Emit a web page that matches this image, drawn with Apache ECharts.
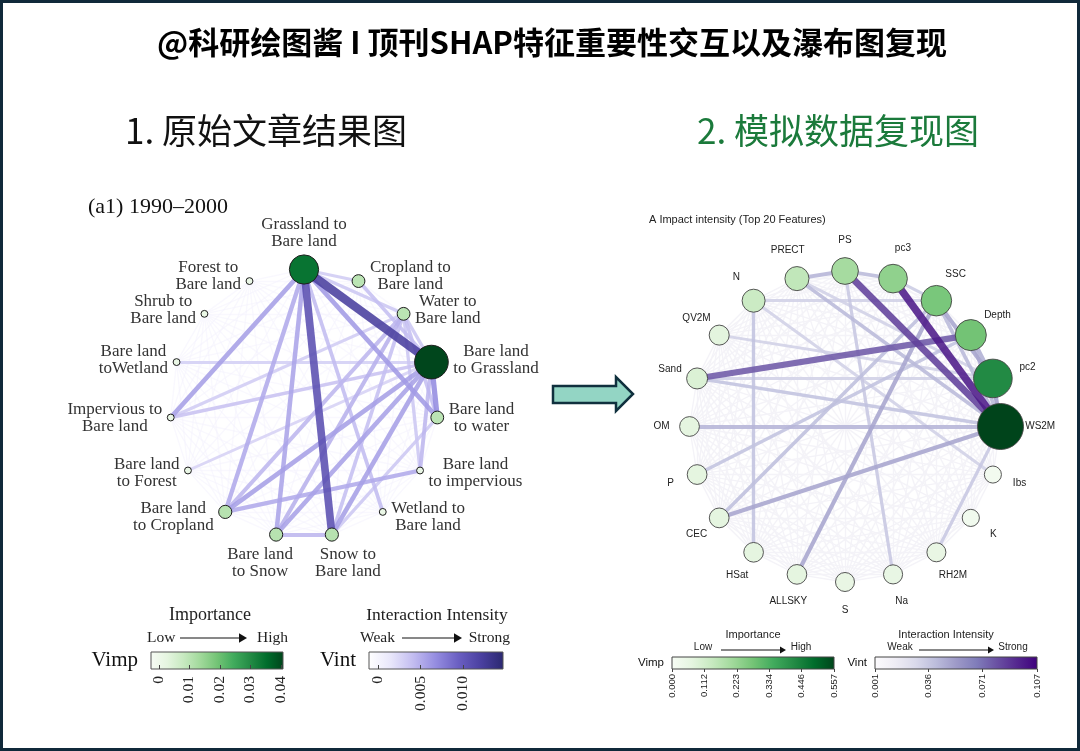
<!DOCTYPE html>
<html>
<head>
<meta charset="utf-8">
<title>SHAP 特征重要性交互网络图</title>
<script src="https://cdn.jsdelivr.net/npm/echarts@6/dist/echarts.min.js"></script>
<style>
  html, body { margin: 0; padding: 0; background: #fff; }
  #main { width: 1080px; height: 751px; }
</style>
</head>
<body>
<div id="main"></div>
<script>
// ---------- 1. 原始文章结果图 (a1) 1990–2000 ----------
var leftNames = [
    'Grassland to\nBare land', 'Cropland to\nBare land', 'Water to\nBare land',
    'Bare land\nto Grassland', 'Bare land\nto water', 'Bare land\nto impervious',
    'Wetland to\nBare land', 'Snow to\nBare land', 'Bare land\nto Snow',
    'Bare land\nto Cropland', 'Bare land\nto Forest', 'Impervious to\nBare land',
    'Bare land\ntoWetland', 'Shrub to\nBare land', 'Forest to\nBare land'
];
var leftVimp = [0.034, 0.010, 0.010, 0.0405, 0.010, 0.0013, 0.0013, 0.0105, 0.0105, 0.0105, 0.0013, 0.0013, 0.0013, 0.0013, 0.0013];
// [source, target, Vint]
var leftLinks = [
    [0, 3, 0.0122], [0, 7, 0.0108],
    [0, 11, 0.0058], [0, 9, 0.0052], [0, 8, 0.0055], [0, 4, 0.0060], [0, 6, 0.0042], [0, 2, 0.0035], [0, 1, 0.0032],
    [3, 4, 0.0068], [3, 9, 0.0058], [3, 8, 0.0056], [3, 7, 0.0058], [3, 5, 0.0045], [3, 11, 0.0038],
    [3, 1, 0.0040], [3, 2, 0.0035], [3, 12, 0.0030],
    [9, 5, 0.0052], [9, 2, 0.0045], [8, 7, 0.0045], [8, 2, 0.0048], [7, 2, 0.0040],
    [2, 4, 0.0040], [2, 5, 0.0035], [11, 2, 0.0032], [10, 3, 0.0028], [7, 4, 0.0035]
];
var leftMeshVint = 0.0002;
var leftVimpTicks = ['0', '0.01', '0.02', '0.03', '0.04'];
var leftVintTicks = ['0', '0.005', '0.010'];
var leftVimpRange = [-0.0026, 0.0407];
var leftVintRange = [-0.00106, 0.0147];

// ---------- 2. 模拟数据复现图 ----------
var rightNames = ['WS2M', 'pc2', 'Depth', 'SSC', 'pc3', 'PS', 'PRECT', 'N', 'QV2M', 'Sand',
    'OM', 'P', 'CEC', 'HSat', 'ALLSKY', 'S', 'Na', 'RH2M', 'K', 'Ibs'];
var rightVimp = [0.557, 0.42, 0.28, 0.27, 0.235, 0.20, 0.15, 0.13, 0.075, 0.093,
    0.07, 0.07, 0.07, 0.068, 0.068, 0.056, 0.058, 0.056, 0.022, 0.02];
var rightLinks = [
    [4, 0, 0.098], [5, 0, 0.086], [9, 2, 0.078],
    [10, 0, 0.044], [12, 0, 0.050], [14, 3, 0.050], [12, 3, 0.040], [11, 2, 0.038],
    [7, 13, 0.038], [9, 0, 0.038], [9, 1, 0.032], [8, 1, 0.032], [6, 0, 0.042],
    [7, 3, 0.032], [16, 5, 0.036], [17, 0, 0.036], [19, 7, 0.032], [6, 5, 0.044],
    [5, 4, 0.042], [3, 1, 0.050], [2, 1, 0.046], [1, 0, 0.052], [3, 0, 0.042],
    [6, 1, 0.032], [4, 3, 0.034], [2, 0, 0.042]
];
var rightMeshVint = 0.009;
var rightVimpTicks = ['0.000', '0.112', '0.223', '0.334', '0.446', '0.557'];
var rightVintTicks = ['0.001', '0.036', '0.071', '0.107'];
var rightVimpRange = [0, 0.557];
var rightVintRange = [0.001, 0.107];

// 调色板
var greens = ['#f7fcf5', '#e5f5e0', '#c7e9c0', '#a1d99b', '#74c476', '#41ab5d', '#238b45', '#006d2c', '#00441b'];
var purples = ['#fcfbfd', '#efedf5', '#dadaeb', '#bcbddc', '#9e9ac8', '#807dba', '#6a51a3', '#54278f', '#3f007d'];
var leftPurples = ['#ffffff', '#e8e6fa', '#c2bcf0', '#948ce0', '#6a5fc2', '#4a40a0', '#2b2870'];

var SERIF = '"Liberation Serif", "DejaVu Serif", serif';
var SANS = '"Liberation Sans", Arial, sans-serif';
var CJK = '"Noto Sans CJK SC", sans-serif';

function mapColor(v, range, palette) {
    var t = (v - range[0]) / (range[1] - range[0]);
    t = Math.max(0, Math.min(1, t));
    return echarts.color.lerp(t, palette);
}

function gradient(palette) {
    return new echarts.graphic.LinearGradient(0, 0, 1, 0, palette.map(function (c, i) {
        return {offset: i / (palette.length - 1), color: c};
    }));
}

var measureCtx = document.createElement('canvas').getContext('2d');
function textBox(text, font, lineHeight) {
    measureCtx.font = font;
    var w = 0;
    var lines = text.split('\n');
    lines.forEach(function (l) {
        w = Math.max(w, measureCtx.measureText(l).width);
    });
    return {w: w, h: lines.length * lineHeight};
}

// 连线: 列出的强交互 + 其余节点对的弱交互背景
function buildLinks(count, list, meshValue, range, palette, widthRange, meshOpacity) {
    var seen = {};
    var links = [];
    list.forEach(function (l) {
        seen[Math.min(l[0], l[1]) + '-' + Math.max(l[0], l[1])] = true;
    });
    var all = list.slice();
    for (var i = 0; i < count; i++) {
        for (var j = i + 1; j < count; j++) {
            if (!seen[i + '-' + j]) all.push([i, j, meshValue]);
        }
    }
    all.sort(function (a, b) { return a[2] - b[2]; });
    all.forEach(function (l) {
        var strong = l[2] !== meshValue;
        links.push({
            source: l[0],
            target: l[1],
            value: l[2],
            lineStyle: {
                color: mapColor(l[2], range, palette),
                width: echarts.number.linearMap(l[2], range, widthRange, true),
                opacity: strong ? 0.88 : meshOpacity,
                curveness: 0
            }
        });
    });
    return links;
}

// 左图节点
var leftFont = '17px "Liberation Serif"';
var leftNodes = leftNames.map(function (name, i) {
    var size = echarts.number.linearMap(leftVimp[i], [0, 0.041], [6, 34], true);
    var ang = (90 - i * 360 / leftNames.length) * Math.PI / 180;
    var c = Math.cos(ang), s = Math.sin(ang);
    var box = textBox(name, leftFont, 17);
    var r = size / 2 + 5;
    var dx, dy;
    if (Math.abs(c) < 0.3) {
        dx = c * r + c * box.w;
        dy = (s > 0 ? -1 : 1) * (r + box.h / 2);
    } else {
        dx = (c > 0 ? 1 : -1) * (r + box.w / 2);
        dy = -s * 6;
    }
    return {
        name: name,
        value: [1, i],
        symbolSize: size,
        itemStyle: {color: mapColor(leftVimp[i], leftVimpRange, greens), borderColor: '#1e1e1e', borderWidth: 1},
        label: {offset: [dx, dy]}
    };
});

// 右图节点
var rightNodes = rightNames.map(function (name, i) {
    var size = echarts.number.linearMap(rightVimp[i], [0, 0.557], [16, 46], true);
    var ang = (i * 360 / rightNames.length) * Math.PI / 180;
    var d = 28 + Math.max(0, size / 2 - 10) * 0.9;
    return {
        name: name,
        value: [1, i],
        symbolSize: size,
        itemStyle: {color: mapColor(rightVimp[i], rightVimpRange, greens), borderColor: '#444', borderWidth: 0.9},
        label: {offset: [Math.cos(ang) * d, -Math.sin(ang) * d]}
    };
});

var leftEdges = buildLinks(leftNames.length, leftLinks, leftMeshVint, leftVintRange, leftPurples, [0.6, 10], 0.55);
var rightEdges = buildLinks(rightNames.length, rightLinks, rightMeshVint, rightVintRange, purples, [0.8, 8.2], 1);

function tickFormatter(labels) {
    return function (v) {
        for (var k = 0; k < labels.length; k++) {
            if (Math.abs(Number(labels[k]) - v) < 1e-9) return labels[k];
        }
        return '';
    };
}

function barXAxis(gridIndex, range, labels, opt) {
    var vals = labels.map(Number);
    return {
        gridIndex: gridIndex,
        type: 'value',
        min: range[0],
        max: range[1],
        axisLine: {show: false},
        splitLine: {show: false},
        axisTick: {
            show: true, customValues: vals, inside: opt.tickInside, length: opt.tickLength,
            lineStyle: {color: '#444', width: 1}
        },
        axisLabel: {
            customValues: vals, rotate: 90, margin: opt.margin,
            formatter: tickFormatter(labels),
            fontFamily: opt.font, fontSize: opt.fontSize, color: '#222'
        }
    };
}

function barYAxis(gridIndex, name, opt) {
    return {
        gridIndex: gridIndex,
        type: 'category',
        data: [name],
        axisLine: {show: false},
        axisTick: {show: false},
        splitLine: {show: false},
        axisLabel: {margin: opt.margin, fontFamily: opt.font, fontSize: opt.fontSize, color: '#111'}
    };
}

function legendArrow(x1, x2, y, head) {
    return [
        {type: 'line', shape: {x1: x1, y1: y, x2: x2 - head, y2: y}, style: {stroke: '#111', lineWidth: 1}},
        {type: 'polygon', shape: {points: [[x2 - head, y - head * 0.6], [x2, y], [x2 - head, y + head * 0.6]]}, style: {fill: '#111'}}
    ];
}

function txt(x, y, text, font, fill, align) {
    return {
        type: 'text', x: x, y: y,
        style: {text: text, font: font, fill: fill || '#111', align: align || 'center', verticalAlign: 'middle'}
    };
}

var graphics = [
    {type: 'rect', shape: {x: 1.5, y: 1.5, width: 1077, height: 748}, style: {fill: 'none', stroke: '#10293a', lineWidth: 3}, z: 10},
    txt(552, 42, '@科研绘图酱 I 顶刊SHAP特征重要性交互以及瀑布图复现', 'bold 31px ' + CJK, '#000'),
    txt(125, 131, '1. 原始文章结果图', '35px ' + CJK, '#111', 'left'),
    txt(697, 131, '2. 模拟数据复现图', '35px ' + CJK, '#1b7a3b', 'left'),
    txt(88, 207, '(a1) 1990–2000', '22px ' + SERIF, '#111', 'left'),
    txt(649, 220, 'A Impact intensity (Top 20 Features)', '11px ' + SANS, '#222', 'left'),
    // 左图图例文字
    txt(210, 615, 'Importance', '18px ' + SERIF, '#222'),
    txt(147, 638, 'Low', '15.5px ' + SERIF, '#222', 'left'),
    txt(288, 638, 'High', '15.5px ' + SERIF, '#222', 'right'),
    txt(437, 615, 'Interaction Intensity', '17.5px ' + SERIF, '#222'),
    txt(360, 638, 'Weak', '15.5px ' + SERIF, '#222', 'left'),
    txt(510, 638, 'Strong', '15.5px ' + SERIF, '#222', 'right'),
    // 右图图例文字
    txt(753, 635, 'Importance', '11px ' + SANS, '#222'),
    txt(703, 647, 'Low', '10px ' + SANS, '#222'),
    txt(801, 647, 'High', '10px ' + SANS, '#222'),
    txt(946, 635, 'Interaction Intensity', '11px ' + SANS, '#222'),
    txt(900, 647, 'Weak', '10px ' + SANS, '#222'),
    txt(1013, 647, 'Strong', '10px ' + SANS, '#222'),
    // 中间箭头
    {
        type: 'polygon',
        shape: {points: [[553, 386], [616, 386], [616, 377], [633, 394], [616, 411], [616, 403], [553, 403]]},
        style: {fill: '#93d5c4', stroke: '#10303e', lineWidth: 2.5}
    }
].concat(legendArrow(180, 247, 638, 8))
    .concat(legendArrow(402, 462, 638, 8))
    .concat(legendArrow(721, 786, 650, 6))
    .concat(legendArrow(919, 994, 650, 6));

var option = {
    backgroundColor: '#ffffff',
    animation: false,
    graphic: graphics,
    polar: [
        {center: [304, 403.5], radius: 134},
        {center: [845, 426.5], radius: 155.5}
    ],
    angleAxis: [
        {polarIndex: 0, type: 'value', min: 0, max: leftNames.length, startAngle: 90, clockwise: true, show: false},
        {polarIndex: 1, type: 'value', min: 0, max: rightNames.length, startAngle: 0, clockwise: false, show: false}
    ],
    radiusAxis: [
        {polarIndex: 0, type: 'value', min: 0, max: 1, show: false},
        {polarIndex: 1, type: 'value', min: 0, max: 1, show: false}
    ],
    grid: [
        {left: 151, top: 652, width: 132, height: 17, show: true, backgroundColor: gradient(greens), borderColor: '#555', borderWidth: 1},
        {left: 369, top: 652, width: 134, height: 17, show: true, backgroundColor: gradient(leftPurples), borderColor: '#555', borderWidth: 1},
        {left: 672, top: 657, width: 162, height: 12, show: true, backgroundColor: gradient(greens), borderColor: '#444', borderWidth: 1},
        {left: 875, top: 657, width: 162, height: 12, show: true, backgroundColor: gradient(purples), borderColor: '#444', borderWidth: 1}
    ],
    xAxis: [
        barXAxis(0, leftVimpRange, leftVimpTicks, {tickInside: true, tickLength: 4, margin: 7, font: SERIF, fontSize: 15.5}),
        barXAxis(1, leftVintRange, leftVintTicks, {tickInside: true, tickLength: 4, margin: 7, font: SERIF, fontSize: 15.5}),
        barXAxis(2, rightVimpRange, rightVimpTicks, {tickInside: false, tickLength: 3, margin: 5, font: SANS, fontSize: 9.5}),
        barXAxis(3, rightVintRange, rightVintTicks, {tickInside: false, tickLength: 3, margin: 5, font: SANS, fontSize: 9.5})
    ],
    yAxis: [
        barYAxis(0, 'Vimp', {margin: 13, font: SERIF, fontSize: 21}),
        barYAxis(1, 'Vint', {margin: 13, font: SERIF, fontSize: 21}),
        barYAxis(2, 'Vimp', {margin: 8, font: SANS, fontSize: 11.5}),
        barYAxis(3, 'Vint', {margin: 8, font: SANS, fontSize: 11.5})
    ],
    series: [
        {
            name: '1990–2000',
            type: 'graph',
            coordinateSystem: 'polar',
            polarIndex: 0,
            data: leftNodes,
            links: leftEdges,
            emphasis: {disabled: true},
            label: {show: true, position: 'inside', fontFamily: SERIF, fontSize: 17, lineHeight: 17, color: '#333', align: 'center', verticalAlign: 'middle'},
            z: 2
        },
        {
            name: 'Top 20 Features',
            type: 'graph',
            coordinateSystem: 'polar',
            polarIndex: 1,
            data: rightNodes,
            links: rightEdges,
            emphasis: {disabled: true},
            label: {show: true, position: 'inside', fontFamily: SANS, fontSize: 10, color: '#222', align: 'center', verticalAlign: 'middle'},
            z: 2
        }
    ]
};

var myChart = echarts.init(document.getElementById('main'));
myChart.setOption(option);
</script>
</body>
</html>
